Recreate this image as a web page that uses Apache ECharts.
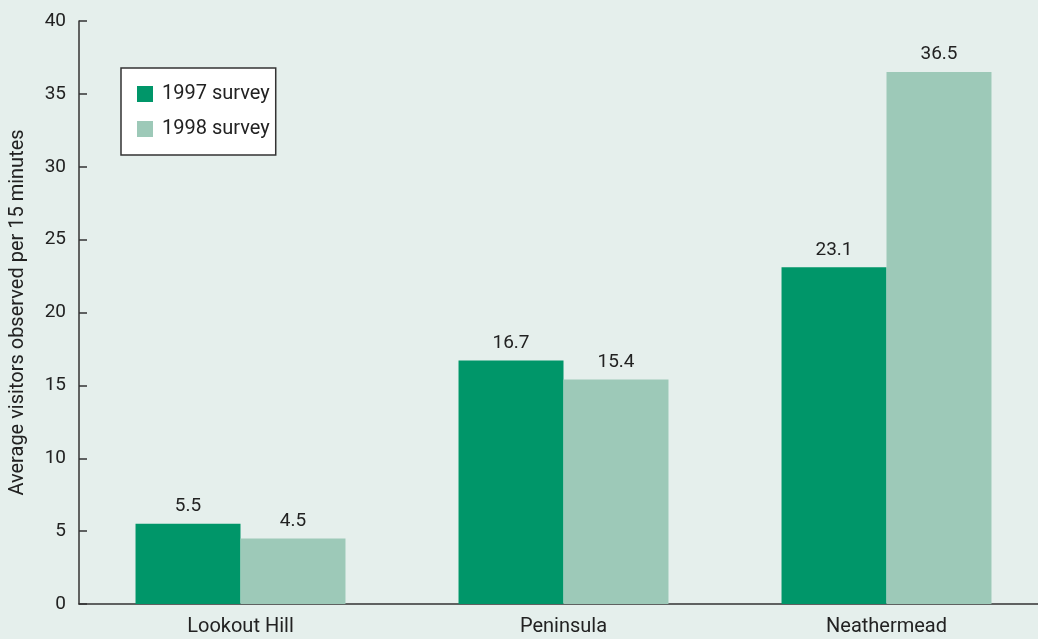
<!DOCTYPE html>
<html><head><meta charset="utf-8">
<script src="https://cdn.jsdelivr.net/npm/echarts@6/dist/echarts.min.js"></script>
<style>html,body{margin:0;padding:0;background:#e5efec;}#c{width:1038px;height:639px;}</style>
</head><body><div id="c"></div>
<script>
const categories = ['Lookout Hill', 'Peninsula', 'Neathermead'];
const survey1997 = [5.5, 16.7, 23.1];
const survey1998 = [4.5, 15.4, 36.5];
const seriesNames = ['1997 survey', '1998 survey'];
const yTitle = 'Average visitors observed per 15 minutes';

const FONT = "Roboto, 'Liberation Sans', sans-serif";
const chart = echarts.init(document.getElementById('c'));
const labelCfg = {show: true, position: 'top', distance: 8, color: '#222', fontFamily: FONT, fontSize: 19, formatter: p => p.value.toFixed(1)};
chart.setOption({
  backgroundColor: '#e5efec',
  animation: false,
  grid: {left: 79, top: 21, bottom: 35, right: -10, outerBoundsMode: 'none', containLabel: false},
  legend: {
    left: 121, top: 68, orient: 'vertical', padding: [16, 6, 16, 16], itemGap: 15,
    itemWidth: 16, itemHeight: 16, icon: 'rect',
    backgroundColor: '#ffffff', borderColor: '#333', borderWidth: 1.5,
    textStyle: {fontFamily: FONT, fontSize: 20, color: '#222', padding: [0, 0, 0, 4]},
    data: seriesNames
  },
  xAxis: {
    type: 'category', data: categories,
    axisLine: {lineStyle: {color: '#333', width: 1.5}},
    axisTick: {show: false},
    axisLabel: {fontFamily: FONT, fontSize: 20, color: '#222', margin: 13}
  },
  yAxis: {
    type: 'value', min: 0, max: 40, interval: 5,
    name: yTitle, nameLocation: 'middle', nameGap: 51, nameRotate: 90,
    nameTextStyle: {fontFamily: FONT, fontSize: 20, color: '#222'},
    axisLine: {show: true, lineStyle: {color: '#333', width: 1.5}},
    axisTick: {show: true, inside: true, length: 8, lineStyle: {color: '#333', width: 1.5}},
    splitLine: {show: false},
    axisLabel: {fontFamily: FONT, fontSize: 19, color: '#222', margin: 13}
  },
  series: [
    {name: seriesNames[0], type: 'bar', data: survey1997, barGap: '0%', barCategoryGap: '35%', itemStyle: {color: '#009669'}, label: labelCfg},
    {name: seriesNames[1], type: 'bar', data: survey1998, barGap: '0%', barCategoryGap: '35%', itemStyle: {color: '#9dc9b8'}, label: labelCfg}
  ]
});
</script></body></html>
